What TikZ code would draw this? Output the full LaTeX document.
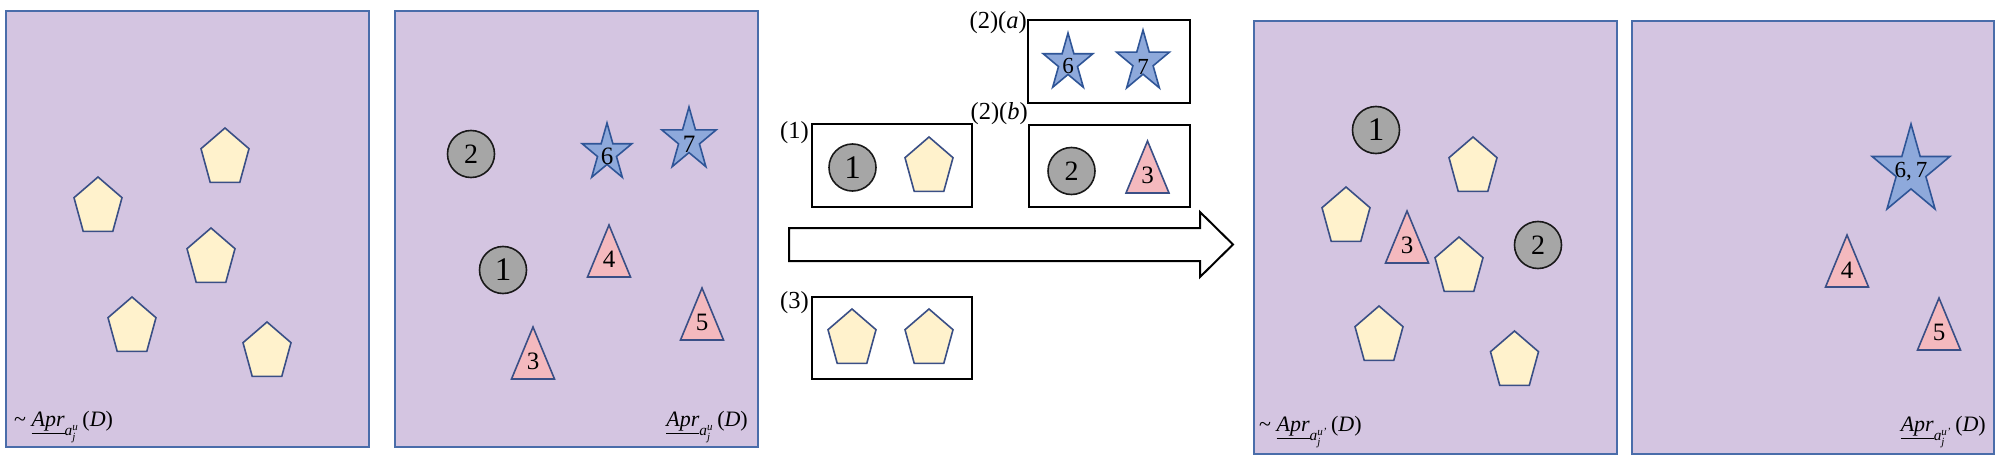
\documentclass[tikz,border=0pt]{standalone}
\usepackage{amsmath}
\usepackage{fontspec}
\setmainfont{Liberation Serif}
\usetikzlibrary{shapes.geometric}
\definecolor{panelfill}{HTML}{D4C5E1}
\definecolor{panelline}{HTML}{4A6DAA}
\definecolor{shapeline}{HTML}{3A4F86}
\definecolor{pentfill}{HTML}{FFF2CC}
\definecolor{ballfill}{HTML}{A6A6A6}
\definecolor{starfill}{HTML}{8EA9DB}
\definecolor{starline}{HTML}{2F5597}
\definecolor{trifill}{HTML}{F4B9BE}
\newcommand\aprlab[1]{$\underline{\textit{Apr}}_{\textit{a}_{\textit{j}}^{\textit{#1}}}$\,(\textit{D})}
\tikzset{
  panel/.style={draw=panelline, fill=panelfill, line width=2pt, inner sep=0, anchor=north west},
  pentstyle/.style={draw=shapeline, fill=pentfill, line width=1.6pt, line join=miter},
  tristyle/.style={draw=shapeline, fill=trifill, line width=1.6pt, line join=miter},
  starstyle/.style={draw=starline, fill=starfill, line width=1.6pt, line join=miter},
  pent/.pic={\draw[pentstyle] (0,-30) -- (-24,-9.3) -- (-14.8,24.3) -- (14.8,24.3) -- (24,-9.3) -- cycle;},
  tri/.pic={\draw[tristyle] (0,-52) -- (-21.5,0) -- (21.5,0) -- cycle;},
  pics/starp/.style={code={\draw[starstyle, xscale=0.87] (-90:#1)
      \foreach \k in {1,...,9}{ -- ({-90+36*\k}:{#1*(0.691+0.309*cos(180*\k))}) } -- cycle;}},
  ball/.style={circle, draw=black!90, fill=ballfill, line width=1.6pt, minimum size=47pt, inner sep=0},
  num/.style={inner sep=0, font=\fontsize{25}{25}\selectfont},
  bignum/.style={inner sep=0, font=\fontsize{33}{33}\selectfont},
  midnum/.style={inner sep=0, font=\fontsize{28}{28}\selectfont},
  mbox/.style={draw=black, fill=white, line width=2pt, inner sep=0},
  lab/.style={inner sep=0, font=\fontsize{24.5}{24.5}\selectfont},
  aprstyle/.style={inner sep=0, font=\fontsize{22}{22}\selectfont},
  arrowstyle/.style={draw=black, fill=white, line width=2pt, line join=miter},
}
\begin{document}
\begin{tikzpicture}[x=1pt, y=-1pt]
\fill[white] (0,0) rectangle (2000,460);
\useasboundingbox (0,0) rectangle (2000,460);

% ---------- Panel 1
\node[panel, minimum width=363pt, minimum height=436pt] (p1) at (5,10) {};
\pic at (225,158) {pent};
\pic at (98,207) {pent};
\pic at (211,258) {pent};
\pic at (132,327) {pent};
\pic at (267,352) {pent};
\node[aprstyle, anchor=base west] (a1) at (14,426) {\textasciitilde\ \aprlab{u}};

% ---------- Panel 2
\node[panel, minimum width=363pt, minimum height=436pt] (p2) at (394,10) {};
\node[ball] (c2a) at (471,154) {};
\node[midnum] (t2a) at (471,154) {2};
\node[ball] (c1a) at (503,270) {};
\node[bignum] (t1a) at (503,270) {1};
\pic at (607,153) {starp=30};
\node[num] (s6a) at (607,156) {6};
\pic at (689,140) {starp=33};
\node[num] (s7a) at (689,144) {7};
\pic at (609,277) {tri};
\node[num] (r4a) at (609,259) {4};
\pic at (702,340) {tri};
\node[num] (r5a) at (702,322) {5};
\pic at (533,379) {tri};
\node[num] (r3a) at (533,361) {3};
\node[aprstyle, anchor=base east] (a2) at (748,426) {\aprlab{u}};

% ---------- Middle
\node[mbox, minimum width=162pt, minimum height=83pt] (ba) at (1109,61.5) {};
\node[lab, anchor=base east] (la) at (1027,29) {(2)(\textit{a})};
\pic at (1068,63) {starp=30};
\node[num, font=\fontsize{23}{23}\selectfont] (s6b) at (1068,66) {6};
\pic at (1143,62) {starp=32};
\node[num, font=\fontsize{23}{23}\selectfont] (s7b) at (1143,67) {7};

\node[mbox, minimum width=161pt, minimum height=82pt] (bb) at (1109.5,166) {};
\node[lab, anchor=base east] (lb) at (1028,119) {(2)(\textit{b})};
\node[ball] (c2b) at (1071.5,171) {};
\node[midnum] (t2b) at (1071.5,171) {2};
\pic at (1147.5,193) {tri};
\node[num] (r3b) at (1147.5,175) {3};

\node[mbox, minimum width=160pt, minimum height=83pt] (b1) at (892,165.5) {};
\node[lab, anchor=base east] (l1) at (809,138) {(1)};
\node[ball] (c1b) at (852.5,167.5) {};
\node[bignum] (t1b) at (852.5,167.5) {1};
\pic at (929,167) {pent};

\node[mbox, minimum width=160pt, minimum height=82pt] (b3) at (892,338) {};
\node[lab, anchor=base east] (l3) at (809,308) {(3)};
\pic at (852,339) {pent};
\pic at (929,339) {pent};

\draw[arrowstyle] (789,228) -- (1200,228) -- (1200,212) -- (1233,244.5)
  -- (1200,277) -- (1200,261) -- (789,261) -- cycle;

% ---------- Panel 3
\node[panel, minimum width=363pt, minimum height=433pt] (p3) at (1253,20) {};
\pic at (1473,167) {pent};
\pic at (1346,217) {pent};
\pic at (1459,267) {pent};
\pic at (1379,336) {pent};
\pic at (1514.5,361) {pent};
\node[ball] (c1c) at (1376,130) {};
\node[bignum] (t1c) at (1376,130) {1};
\node[ball] (c2c) at (1538,245) {};
\node[midnum] (t2c) at (1538,245) {2};
\pic at (1407,263) {tri};
\node[num] (r3c) at (1407,245) {3};
\node[aprstyle, anchor=base west] (a3) at (1259,431) {\textasciitilde\ \aprlab{u'}};

% ---------- Panel 4
\node[panel, minimum width=362pt, minimum height=433pt] (p4) at (1631,20) {};
\pic at (1911,171) {starp=47};
\node[num, font=\fontsize{23}{23}\selectfont] (s67) at (1911,172) {6,\,7};
\pic at (1847,287) {tri};
\node[num] (r4c) at (1847,270) {4};
\pic at (1939,350) {tri};
\node[num] (r5c) at (1939,332) {5};
\node[aprstyle, anchor=base east] (a4) at (1986,431) {\aprlab{u'}};
\end{tikzpicture}
\end{document}
